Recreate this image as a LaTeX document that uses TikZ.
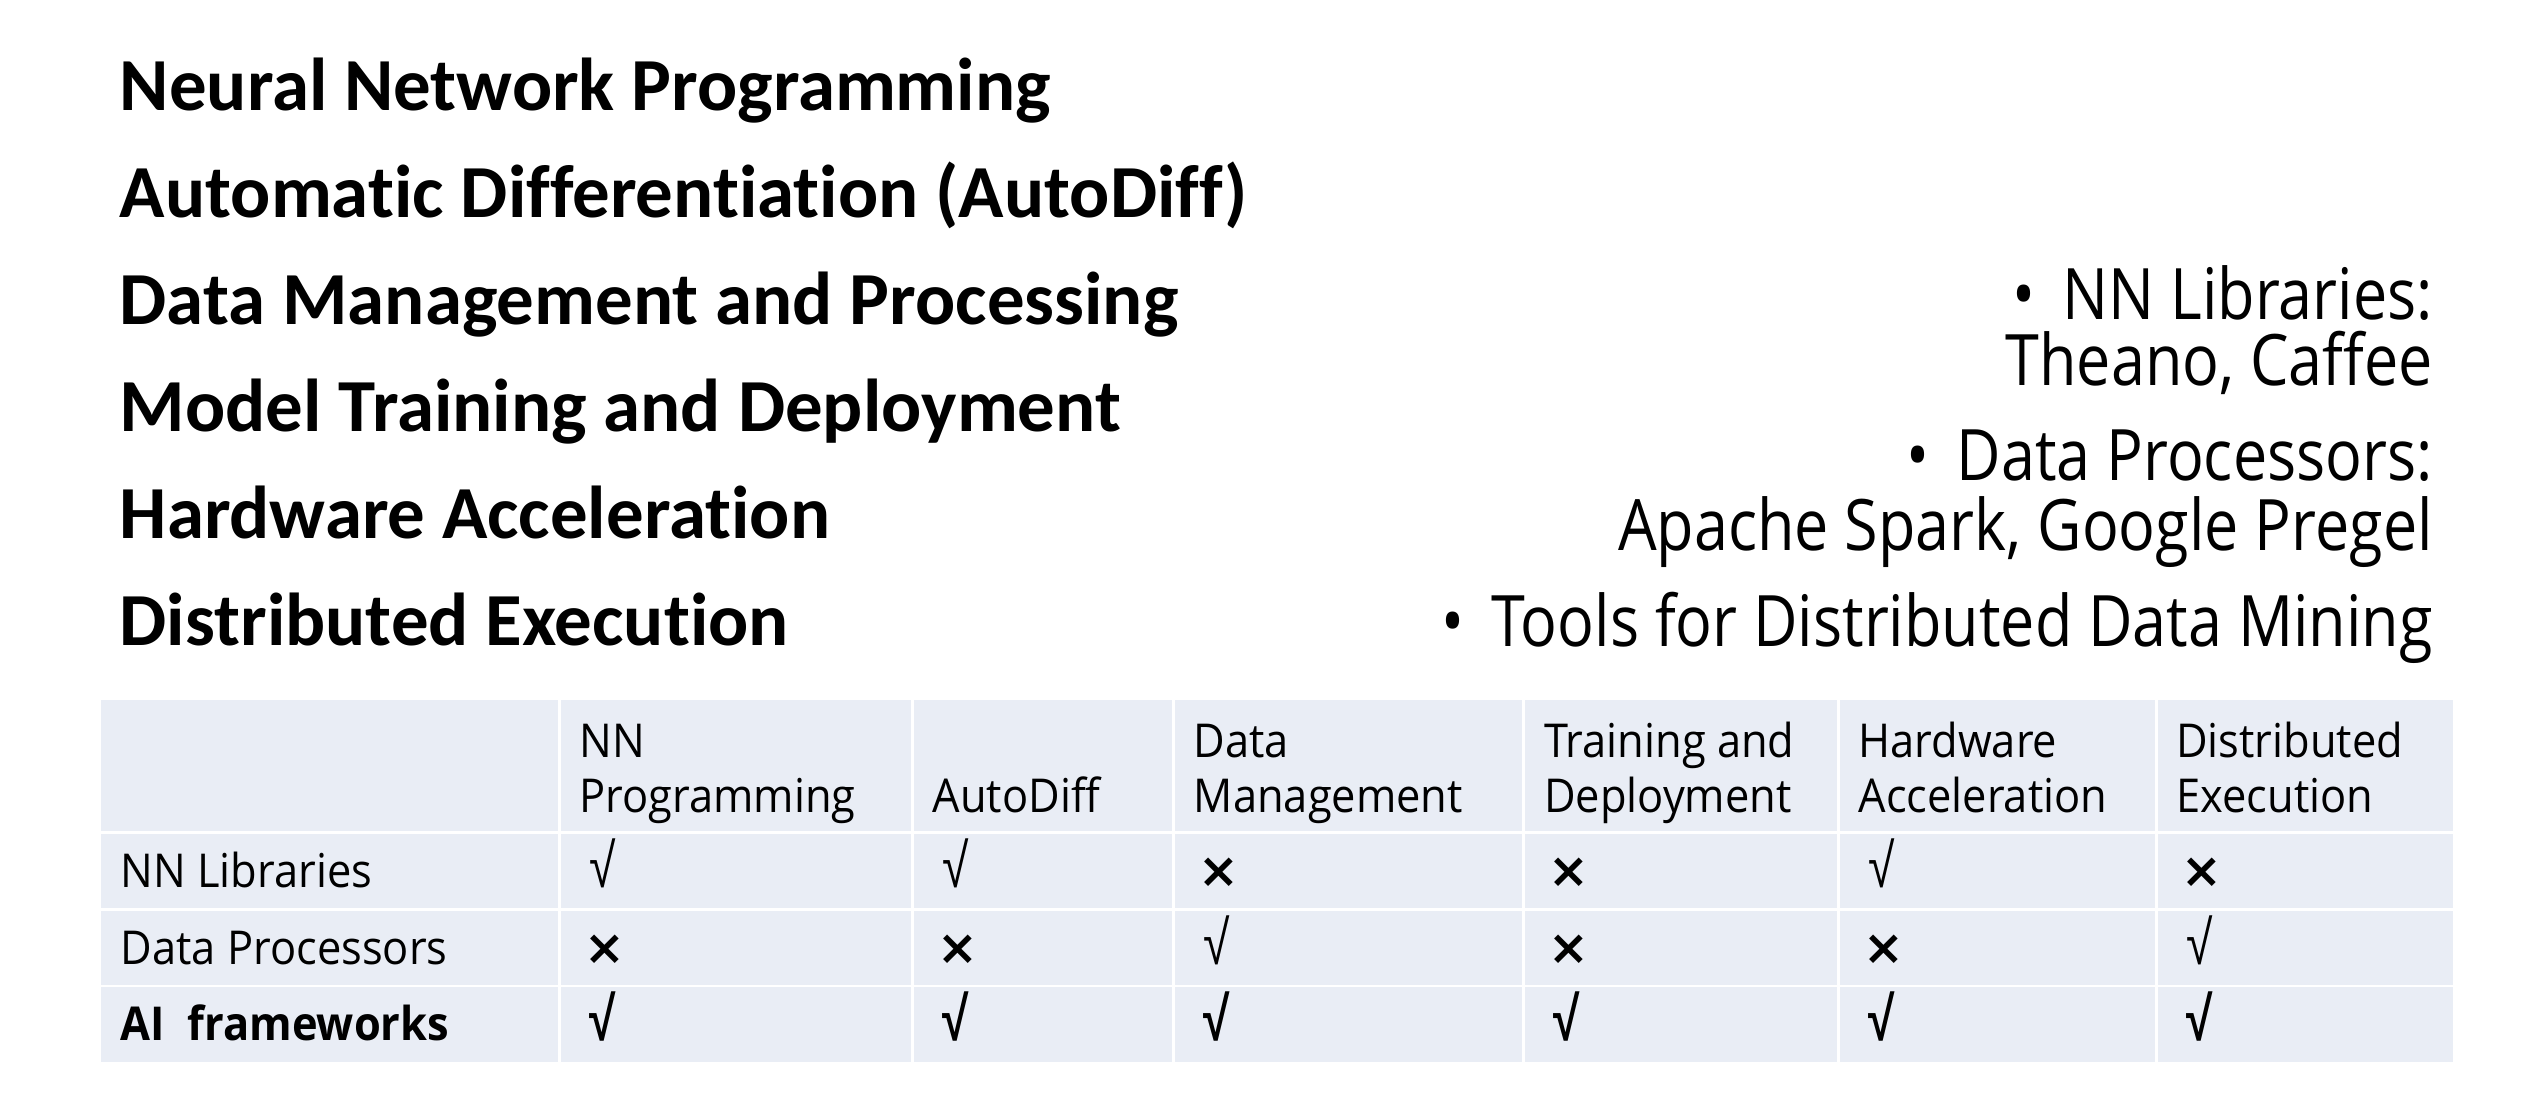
\documentclass[tikz,border=0pt]{standalone}
\usepackage{fontspec}
\defaultfontfeatures{Ligatures=NoCommon}
\setmainfont{Open Sans}
\newfontfamily\titlefont{Carlito}
\newfontfamily\bulletfont[FakeStretch=0.86]{Open Sans}
\newfontfamily\cellfont[FakeStretch=0.93]{Open Sans}
\newfontfamily\markfont{Liberation Sans}
\newfontfamily\crossfont{DejaVu Sans}
\usepackage{xcolor}
\definecolor{cellBlue}{HTML}{E9EDF5}
\usepackage{tikz}
\usetikzlibrary{calc}
\tikzset{
    topic/.style={anchor=base west,inner sep=0pt,font=\titlefont\bfseries\fontsize{23.1}{26}\selectfont},
    bullet/.style={anchor=base east,inner sep=0pt,font=\bulletfont\fontsize{21.9}{26}\selectfont},
    cell/.style={anchor=base west,inner sep=0pt,font=\cellfont\fontsize{14.4}{17}\selectfont},
    cellbold/.style={cell,font=\cellfont\bfseries\fontsize{14.4}{17}\selectfont},
    tick/.style={anchor=base west,inner sep=0pt,font=\markfont\fontsize{14.4}{17}\selectfont},
    tickbold/.style={tick,font=\markfont\bfseries\fontsize{14.4}{17}\selectfont},
    rule/.style={draw=white,line width=0.9pt}
}
\newcommand\marky{\hspace{1.5pt}{\fontsize{19}{20}\selectfont\scalebox{0.78}[1]{√}}}
\newcommand\markn{{\crossfont\bfseries\fontsize{15}{17}\selectfont ×}}
\newcommand\dotsep{•\hspace{3.5pt} }

\begin{document}
\begin{tikzpicture}[x=0.5pt,y=-0.5pt]
  % canvas
  \useasboundingbox (0,0) rectangle (1568,676);

  % topics on the left
  \foreach \txt [count=\i] in {Neural Network Programming,
      Automatic Differentiation (AutoDiff),
      Data Management and Processing,
      Model Training and Deployment,
      Hardware Acceleration,
      Distributed Execution}{
    \node[topic] (t\i) at (73.5,{2.3+66*\i}) {\txt};
  }

  % existing systems (right aligned)
  \node[bullet] (b1) at (1501,197)   {\dotsep NN Libraries:};
  \node[bullet] (b2) at (1501,237.5) {Theano, Caffee};
  \node[bullet] (b3) at (1501,296.5) {\dotsep Data Processors:};
  \node[bullet] (b4) at (1501,339.3) {Apache Spark, Google Pregel};
  \node[bullet] (b5) at (1501,399)   {\dotsep Tools for Distributed Data Mining};

  % table background and white rules
  \fill[cellBlue] (62,432) rectangle (1513,655);
  \foreach \x in {345,563,724,940,1134,1330}
    \draw[rule] (\x,432) -- (\x,655);
  \foreach \y in {513.6,561,608.2}
    \draw[rule] (62,\y) -- (1513,\y);

  % header row
  \foreach \x/\a/\b [count=\j] in {345/NN/Programming,
      724/Data/Management,
      940/Training and/Deployment,
      1134/Hardware/Acceleration,
      1330/Distributed/Execution}{
    \node[cell] (h\j-top) at (\x+12,467.1) {\a};
    \node[cell] (h\j-bot) at (\x+12,501.3) {\b};
  }
  \node[cell] (hAD) at (563+12,501.3) {AutoDiff};

  % rows: label, baseline, marks
  \foreach \lab/\y/\marks [count=\r] in {NN Libraries/547.3/{y,y,n,n,y,n},
      Data Processors/594.8/{n,n,y,n,n,y}}{
    \node[cell] (r\r) at (74,\y) {\lab};
    \foreach \m [count=\c] in \marks {
      \pgfmathsetmacro\cx{{345,563,724,940,1134,1330}[\c-1]}
      \node[tick] (m\r-\c) at (\cx+15,\y) {\csname mark\m\endcsname};
    }
  }

  % last row in bold
  \node[cellbold] (r3) at (74,641.8) {AI\ \ frameworks};
  \foreach \x [count=\c] in {345,563,724,940,1134,1330}
    \node[tickbold] (m3-\c) at (\x+15,641.8) {\marky};
\end{tikzpicture}
\end{document}
